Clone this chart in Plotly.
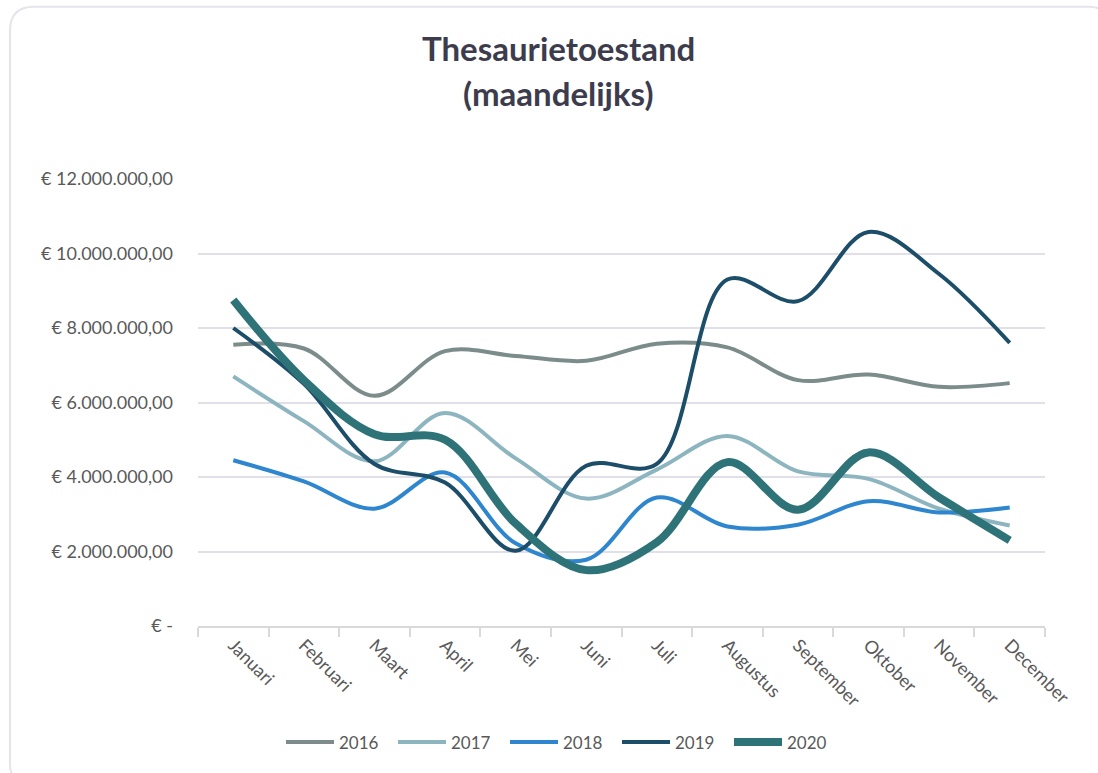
import plotly.graph_objects as go

months = ["Januari", "Februari", "Maart", "April", "Mei", "Juni", "Juli",
          "Augustus", "September", "Oktober", "November", "December"]

y2016 = [7550000, 7450000, 6180000, 7380000, 7250000, 7120000, 7580000,
         7480000, 6600000, 6750000, 6420000, 6520000]
y2017 = [6700000, 5500000, 4420000, 5720000, 4500000, 3420000, 4200000,
         5100000, 4150000, 3950000, 3150000, 2700000]
y2018 = [4450000, 3880000, 3150000, 4120000, 2220000, 1780000, 3450000,
         2670000, 2720000, 3350000, 3050000, 3180000]
y2019 = [8000000, 6500000, 4350000, 3850000, 2020000, 4300000, 4350000,
         9300000, 8720000, 10580000, 9450000, 7600000]
y2020 = [8750000, 6600000, 5150000, 5000000, 2750000, 1500000, 2250000,
         4400000, 3120000, 4660000, 3450000, 2300000]

tick_vals = [0, 2000000, 4000000, 6000000, 8000000, 10000000, 12000000]
tick_text = ["€ -", "€ 2.000.000,00", "€ 4.000.000,00", "€ 6.000.000,00",
             "€ 8.000.000,00", "€ 10.000.000,00", "€ 12.000.000,00"]

series = [
    ("2016", y2016, "#7B8C8B", 4),
    ("2017", y2017, "#8DB5C0", 4),
    ("2018", y2018, "#2E86CE", 4),
    ("2019", y2019, "#1C4D69", 4),
    ("2020", y2020, "#2E7377", 8),
]

W, H = 1098, 773
L, R, T, B = 198, 1045, 179, 628

fig = go.Figure()
for name, vals, color, width in series:
    fig.add_trace(go.Scatter(
        x=months, y=vals, name=name, mode="lines",
        line=dict(color=color, width=width, shape="spline", smoothing=1.0),
    ))

def px(x):
    return (x - L) / (R - L)

def py(y):
    return (B - y) / (B - T)

# rounded frame
x0, y0, x1, y1, r = 10, 6, 1112, 790, 24
path = (f"M {px(x0 + r)},{py(y0)} L {px(x1 - r)},{py(y0)} "
        f"Q {px(x1)},{py(y0)} {px(x1)},{py(y0 + r)} "
        f"L {px(x1)},{py(y1 - r)} Q {px(x1)},{py(y1)} {px(x1 - r)},{py(y1)} "
        f"L {px(x0 + r)},{py(y1)} Q {px(x0)},{py(y1)} {px(x0)},{py(y1 - r)} "
        f"L {px(x0)},{py(y0 + r)} Q {px(x0)},{py(y0)} {px(x0 + r)},{py(y0)} Z")

fig.update_layout(
    width=W, height=H,
    margin=dict(l=L, r=W - R, t=T, b=H - B),
    paper_bgcolor="white", plot_bgcolor="white",
    font=dict(family="Lato, Open Sans, sans-serif", color="#595959", size=17),
    showlegend=True,
    legend=dict(orientation="h", x=px(561), y=py(745), xanchor="center",
                yanchor="middle", font=dict(size=17, color="#595959"),
                itemwidth=48, entrywidth=49, tracegroupgap=0,
                bgcolor="rgba(0,0,0,0)"),
    shapes=[dict(type="path", path=path, xref="paper", yref="paper",
                 line=dict(color="#E4E4EC", width=2), layer="below")],
    annotations=[
        dict(text="<b>Thesaurietoestand</b>", xref="paper", yref="paper",
             x=px(558), y=py(47), xanchor="center", yanchor="middle",
             showarrow=False, font=dict(size=33, color="#3C3C4C")),
        dict(text="<b>(maandelijks)</b>", xref="paper", yref="paper",
             x=px(558), y=py(93), xanchor="center", yanchor="middle",
             showarrow=False, font=dict(size=33, color="#3C3C4C")),
    ],
)

fig.update_xaxes(
    type="category", range=[-0.5, 11.5], showgrid=False, showline=True,
    linecolor="#D9D9D9", linewidth=1.5, ticks="outside",
    tickson="boundaries", ticklen=9, tickcolor="#D9D9D9", tickwidth=1.5,
    tickangle=45, tickfont=dict(size=18, color="#595959"), zeroline=False,
)
fig.update_yaxes(
    range=[0, 12000000], tickvals=tick_vals, ticktext=tick_text,
    showgrid=True, gridcolor="#E1E0E8", gridwidth=1.5, zeroline=False,
    showline=False, ticks="", ticklabelstandoff=24,
    tickfont=dict(size=18, color="#595959"),
)

fig.write_html("out.html", config={"displayModeBar": False},
               post_script="document.body.style.margin='0px';")
